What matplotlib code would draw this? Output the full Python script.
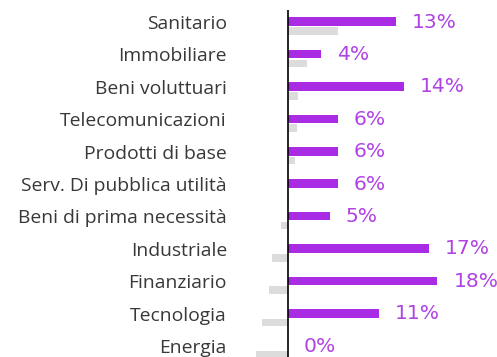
import numpy as np
import matplotlib.pyplot as plt

plt.rcParams["font.family"] = ["Open Sans", "DejaVu Sans"]

sectors = [
    "Sanitario",
    "Immobiliare",
    "Beni voluttuari",
    "Telecomunicazioni",
    "Prodotti di base",
    "Serv. Di pubblica utilità",
    "Beni di prima necessità",
    "Industriale",
    "Finanziario",
    "Tecnologia",
    "Energia",
]
current = [13, 4, 14, 6, 6, 6, 5, 17, 18, 11, 0]
previous = [6.0, 2.3, 1.2, 1.1, 0.8, 0.0, -0.8, -1.9, -2.3, -3.1, -3.8]

PURPLE = "#A92BE3"
PURPLE_TXT = "#B043E4"
GREY = "#DCDCDC"

W, H = 497, 357
fig = plt.figure(figsize=(W / 100, H / 100), dpi=100)

# axes placed in pixel terms: zero line at x=288, 8.3 px per percent
px_per = 8.3
x0_px = 288
xmin, xmax = -4.5, 25
left_px = x0_px + xmin * px_per
right_px = x0_px + xmax * px_per
top_px, bot_px = 10, 357
ax = fig.add_axes([left_px / W, 1 - bot_px / H, (right_px - left_px) / W, (bot_px - top_px) / H])

rows = np.arange(len(sectors))
ax.barh(rows - 0.01, current, height=0.27, color=PURPLE, zorder=2)
ax.barh(rows + 0.28, previous, height=0.235, color=GREY, zorder=1)

for y, v in zip(rows, current):
    ax.annotate(f"{v}%", (v, y), xytext=(11.5, 0), textcoords="offset points",
                va="center", ha="left", color=PURPLE_TXT, fontsize=14.6,
                family="DejaVu Sans")

ax.axvline(0, color="black", lw=1.2, zorder=3)

ax.set_xlim(xmin, xmax)
ax.set_ylim((bot_px - 22) / 32.4, -(22 - top_px) / 32.4)
ax.set_yticks(rows)
ax.set_yticklabels(sectors, fontsize=13.9, color="#383838")
ax.tick_params(axis="y", length=0, pad=(x0_px - 227 + xmin * px_per) * 0.72)
ax.set_xticks([])
for s in ax.spines.values():
    s.set_visible(False)

fig.savefig("out.png", dpi=100)
